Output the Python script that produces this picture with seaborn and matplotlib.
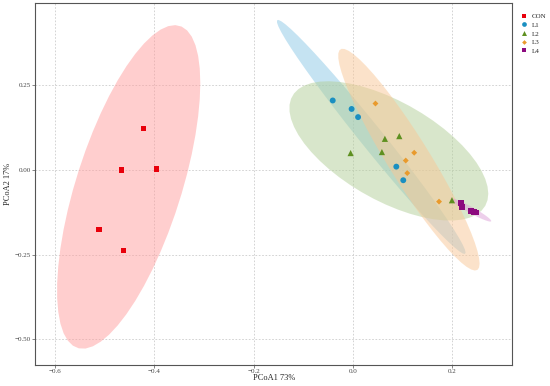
import numpy as np
import pandas as pd
import matplotlib
matplotlib.use('Agg')
import matplotlib.pyplot as plt
import seaborn as sns

# PCoA scores
groups = ['CON', 'L1', 'L2', 'L3', 'L4']
con_x = [-0.422, -0.466, -0.396, -0.511, -0.462]
con_y = [0.121, -0.001, 0.002, -0.176, -0.238]
l1_x = [-0.041, -0.003, 0.010, 0.087, 0.101]
l1_y = [0.204, 0.179, 0.155, 0.009, -0.031]
l2_x = [-0.005, 0.064, 0.093, 0.058, 0.199]
l2_y = [0.049, 0.091, 0.099, 0.052, -0.090]
l3_x = [0.045, 0.123, 0.106, 0.109, 0.173]
l3_y = [0.195, 0.050, 0.027, -0.010, -0.094]
l4_x = [0.218, 0.220, 0.238, 0.244, 0.248]
l4_y = [-0.097, -0.109, -0.121, -0.124, -0.126]

point_colors = ['#E8000B', '#1A8FC1', '#5E9020', '#E99A2C', '#8C0A7E']
fill_colors = ['#FF9E9E', '#8CC8E6', '#B2CF98', '#F9C796', '#DDA0D8']

xs = [con_x, l1_x, l2_x, l3_x, l4_x]
ys = [con_y, l1_y, l2_y, l3_y, l4_y]
df = pd.DataFrame({
    'PCoA1': sum(xs, []),
    'PCoA2': sum(ys, []),
    'group': sum([[g] * len(x) for g, x in zip(groups, xs)], []),
})


def cov_trob(xy, nu=5, maxit=25, tol=0.01):
    # robust t covariance, same steps as MASS::cov.trob
    n, p = xy.shape
    wt = np.ones(n)
    loc = xy.mean(axis=0)
    w = np.sqrt(wt)
    for _ in range(maxit):
        w0 = w
        X = xy - loc
        _, d, vt = np.linalg.svd(np.sqrt(w / w.sum())[:, None] * X, full_matrices=False)
        wX = X @ vt.T @ np.diag(1 / d)
        Q = (wX ** 2).sum(axis=1)
        w = (wt * (nu + p)) / (nu + Q)
        loc = (w[:, None] * xy).sum(axis=0) / w.sum()
        if np.all(np.abs(w - w0) < tol):
            break
    sX = np.sqrt(w)[:, None] * X
    return loc, sX.T @ sX / wt.sum()


def ellipse_points(x, y, level=0.95, segments=51):
    xy = np.column_stack([x, y])
    center, shape = cov_trob(xy)
    dfd = len(x) - 1
    qf = dfd / 2 * ((1 - level) ** (-2 / dfd) - 1)
    radius = np.sqrt(2 * qf)
    t = np.linspace(0, 2 * np.pi, segments + 1)
    circle = np.column_stack([np.cos(t), np.sin(t)])
    L = np.linalg.cholesky(shape)
    return center + radius * circle @ L.T


sns.set_style('white')
plt.rcParams['font.family'] = ['Liberation Serif', 'DejaVu Serif']

fig = plt.figure(figsize=(5.5, 3.86), dpi=100)
ax = fig.add_axes([0.064, 0.054, 0.867, 0.938])

for g, x, y, fc in zip(groups, xs, ys, fill_colors):
    pts = ellipse_points(np.array(x), np.array(y))
    ax.fill(pts[:, 0], pts[:, 1], color=fc, alpha=0.5, lw=0, zorder=1)

sns.scatterplot(data=df, x='PCoA1', y='PCoA2', hue='group', style='group', size='group',
                hue_order=groups, style_order=groups, size_order=groups,
                palette=dict(zip(groups, point_colors)),
                markers={'CON': 's', 'L1': 'o', 'L2': '^', 'L3': 'D', 'L4': 's'},
                sizes={'CON': 16, 'L1': 18, 'L2': 20, 'L3': 9, 'L4': 18},
                linewidth=0, ax=ax, zorder=3)

ax.set_xlim(-0.64, 0.32)
ax.set_ylim(-0.576, 0.491)
ax.set_xticks([-0.6, -0.4, -0.2, 0.0, 0.2])
ax.set_yticks([-0.5, -0.25, 0.0, 0.25])
ax.set_yticklabels(['\u22120.50', '\u22120.25', '0.00', '0.25'])
ax.set_xticklabels(['\u22120.6', '\u22120.4', '\u22120.2', '0.0', '0.2'])
ax.grid(True, linestyle=(0, (2, 2)), color='#cccccc', linewidth=0.6)
ax.set_axisbelow(True)
ax.tick_params(axis='both', labelsize=5, length=2, width=0.5, color='#555555',
               labelcolor='#444444', pad=1, direction='out', bottom=True, left=True)
for sp in ax.spines.values():
    sp.set_color('#555555')
    sp.set_linewidth(0.8)
ax.set_xlabel('PCoA1 73%', fontsize=6, labelpad=0)
ax.set_ylabel('PCoA2 17%', fontsize=6, labelpad=2)

handles, labels = ax.get_legend_handles_labels()
ax.legend(handles, labels, loc='upper left', bbox_to_anchor=(1.0, 0.985),
          frameon=False, fontsize=5, handletextpad=0.1, labelspacing=0.4,
          markerscale=0.8, borderaxespad=0.3)

fig.savefig('out.png', dpi=100)
